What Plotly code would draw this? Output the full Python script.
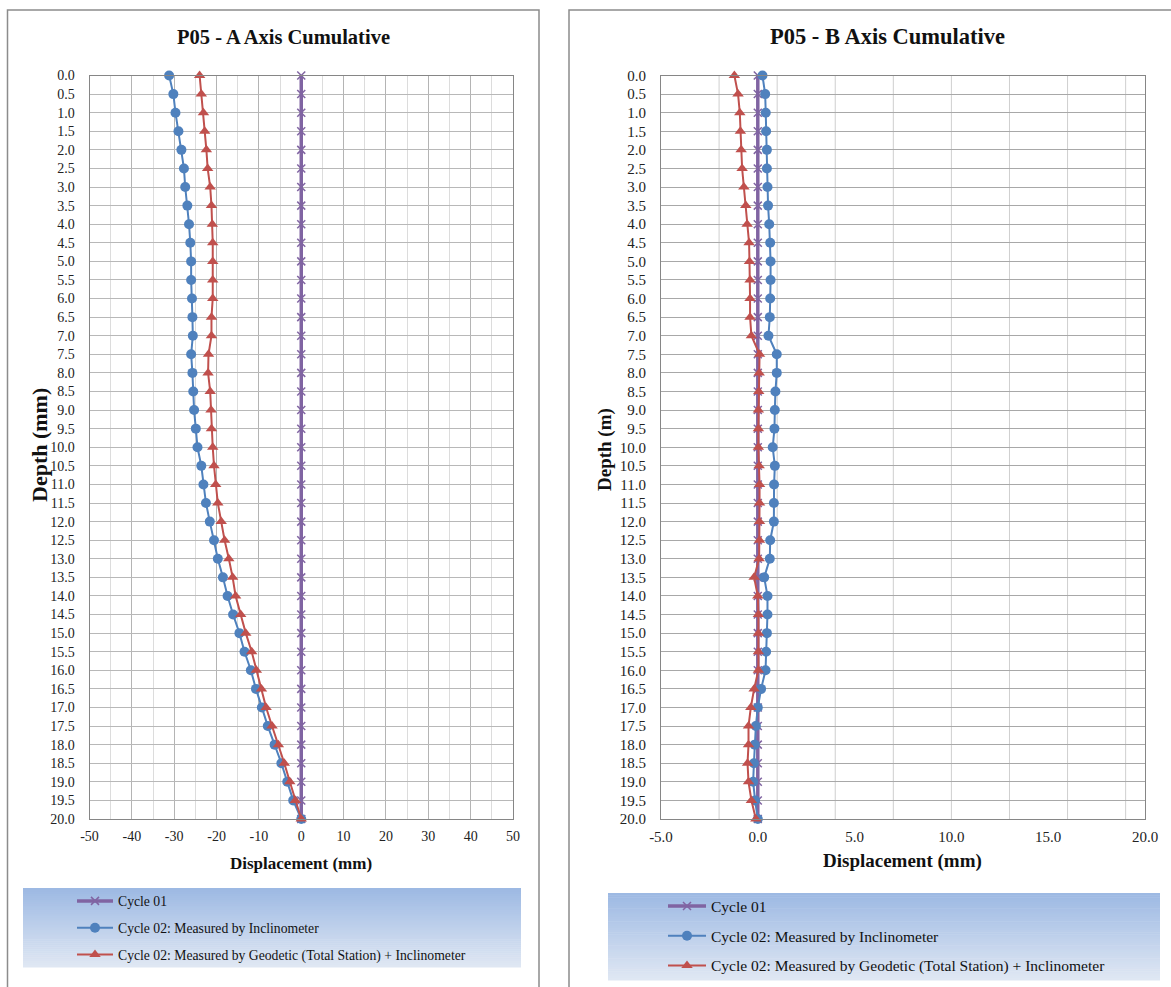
import plotly.graph_objects as go

W, H = 1171, 987

depth = [0.0, 0.5, 1.0, 1.5, 2.0, 2.5, 3.0, 3.5, 4.0, 4.5, 5.0, 5.5, 6.0, 6.5, 7.0, 7.5,
         8.0, 8.5, 9.0, 9.5, 10.0, 10.5, 11.0, 11.5, 12.0, 12.5, 13.0, 13.5, 14.0, 14.5,
         15.0, 15.5, 16.0, 16.5, 17.0, 17.5, 18.0, 18.5, 19.0, 19.5, 20.0]

a_cycle01 = [0.0] * 41
a_inclinometer = [-31.2, -30.2, -29.7, -29.0, -28.3, -27.7, -27.4, -26.9, -26.5, -26.2,
                  -26.0, -26.0, -25.8, -25.7, -25.6, -26.0, -25.7, -25.5, -25.3, -24.9,
                  -24.5, -23.6, -23.1, -22.5, -21.6, -20.6, -19.7, -18.5, -17.4, -16.1,
                  -14.6, -13.4, -11.9, -10.7, -9.3, -7.9, -6.3, -4.7, -3.3, -1.9, 0.0]
a_geodetic = [-24.0, -23.6, -23.1, -22.8, -22.4, -22.1, -21.5, -21.2, -21.0, -20.9,
              -20.9, -20.9, -20.9, -21.2, -21.2, -21.9, -22.0, -21.5, -21.3, -21.2,
              -20.9, -20.6, -20.2, -19.7, -18.9, -18.1, -17.1, -16.2, -15.5, -14.3,
              -13.1, -11.7, -10.6, -9.4, -8.3, -6.9, -5.4, -4.0, -2.7, -1.4, 0.0]

b_cycle01 = [0.0] * 41
b_inclinometer = [0.24, 0.38, 0.41, 0.43, 0.47, 0.47, 0.50, 0.53, 0.59, 0.64,
                  0.66, 0.66, 0.64, 0.62, 0.55, 0.98, 0.98, 0.91, 0.88, 0.86,
                  0.77, 0.88, 0.84, 0.83, 0.83, 0.64, 0.62, 0.33, 0.50, 0.50,
                  0.47, 0.43, 0.40, 0.17, 0.0, -0.10, -0.16, -0.20, -0.24, -0.14, 0.0]
b_geodetic = [-1.21, -1.02, -0.93, -0.90, -0.86, -0.81, -0.72, -0.62, -0.55, -0.45,
              -0.43, -0.40, -0.40, -0.40, -0.33, 0.09, 0.07, 0.05, 0.03, 0.03,
              0.03, 0.07, 0.09, 0.09, 0.09, 0.09, 0.07, -0.19, 0.0, 0.03,
              0.03, 0.03, 0.03, -0.19, -0.36, -0.48, -0.48, -0.53, -0.48, -0.33, -0.10]

a_xticks = [-50, -40, -30, -20, -10, 0, 10, 20, 30, 40, 50]
a_xticklabels = ["-50", "-40", "-30", "-20", "-10", "0", "10", "20", "30", "40", "50"]
b_xticks = [-5, 0, 5, 10, 15, 20]
b_xticklabels = ["-5.0", "0.0", "5.0", "10.0", "15.0", "20.0"]

names = ["Cycle 01",
         "Cycle 02: Measured by Inclinometer",
         "Cycle 02: Measured by Geodetic (Total Station) + Inclinometer"]

PURPLE = "#8064A2"
BLUE = "#4F81BD"
RED = "#C0504D"
SERIF = "Liberation Serif, Times New Roman, serif"


def px(x):
    return x / W


def py(y):
    return 1 - y / H


fig = go.Figure()

panels = [
    ("x", "y", "legend", [a_cycle01, a_inclinometer, a_geodetic]),
    ("x2", "y2", "legend2", [b_cycle01, b_inclinometer, b_geodetic]),
]
for xa, ya, lg, series in panels:
    styles = [
        dict(line=dict(color=PURPLE, width=3.5),
             marker=dict(symbol="x-thin", size=8, color=PURPLE,
                         line=dict(color=PURPLE, width=1.5))),
        dict(line=dict(color=BLUE, width=2),
             marker=dict(symbol="circle", size=10, color=BLUE)),
        dict(line=dict(color=RED, width=2),
             marker=dict(symbol="triangle-up", size=10, color=RED)),
    ]
    for i, (vals, st) in enumerate(zip(series, styles)):
        fig.add_trace(go.Scatter(
            x=vals, y=depth, mode="lines+markers", name=names[i],
            xaxis=xa, yaxis=ya, legend=lg, legendgroup=f"{lg}{i}",
            cliponaxis=False, **st))

tickfont_l = dict(family=SERIF, size=14, color="#222")
tickfont_r = dict(family=SERIF, size=15, color="#222")

ycommon = dict(range=[20, 0], tick0=0, dtick=0.5, tickformat=".1f",
               showgrid=True, zeroline=False, showline=True, mirror=True,
               linecolor="#868686", linewidth=1, ticks="", ticklabelstandoff=11)

left_dom = [px(89.5), px(513)]
right_dom = [px(661), px(1145)]
ydom = [py(819), py(75.5)]

fig.update_layout(
    width=W, height=H, margin=dict(l=0, r=0, t=0, b=0, autoexpand=False),
    paper_bgcolor="white", plot_bgcolor="white", showlegend=True,
    xaxis=dict(domain=left_dom, anchor="y", range=[-50, 50],
               tickmode="array", tickvals=a_xticks, ticktext=a_xticklabels,
               showgrid=True, gridcolor="#B4B4B4", gridwidth=1,
               minor=dict(tickmode="linear", tick0=-50, dtick=5, showgrid=True,
                          gridcolor="#DCDCDC", gridwidth=1),
               zeroline=False, showline=True, mirror=True, linecolor="#868686",
               ticks="", tickfont=tickfont_l, ticklabelstandoff=4),
    yaxis=dict(domain=ydom, anchor="x", gridcolor="#B8B8B8", tickfont=tickfont_l, **ycommon),
    xaxis2=dict(domain=right_dom, anchor="y2", range=[-5, 20],
                tickmode="array", tickvals=b_xticks, ticktext=b_xticklabels,
                showgrid=False, zeroline=False, showline=True,
                mirror=True, linecolor="#868686", ticks="", tickfont=tickfont_r,
                ticklabelstandoff=4),
    yaxis2=dict(domain=ydom, anchor="x2", gridcolor="#A8A8A8", tickfont=tickfont_r, **ycommon),
    legend=dict(x=px(72), y=py(885.5), xanchor="left", yanchor="top",
                bgcolor="rgba(0,0,0,0)", font=dict(family=SERIF, size=13.7, color="#111"),
                itemwidth=36, tracegroupgap=6, traceorder="grouped",
                itemclick=False, itemdoubleclick=False),
    legend2=dict(x=px(663), y=py(889.5), xanchor="left", yanchor="top",
                 bgcolor="rgba(0,0,0,0)", font=dict(family=SERIF, size=15.5, color="#111"),
                 itemwidth=38, tracegroupgap=6.5, traceorder="grouped",
                 itemclick=False, itemdoubleclick=False),
)

shapes = []
# right-panel vertical gridlines (spaced every 3 units from the axis start)
gx = -5 + 3
while gx < 20:
    shapes.append(dict(type="line", xref="x2", yref="y2 domain", x0=gx, x1=gx,
                       y0=0, y1=1, layer="below",
                       line=dict(color="#CFCFCF", width=1)))
    gx += 3


# gradient legend backgrounds
def gradient(x0, x1, y0, y1, n=40):
    top = (157, 185, 227)
    bot = (223, 231, 243)
    out = []
    for k in range(n):
        t = k / (n - 1)
        c = tuple(int(round(top[j] + (bot[j] - top[j]) * t)) for j in range(3))
        ya = y0 + (y1 - y0) * k / n
        yb = y0 + (y1 - y0) * (k + 1) / n + 0.5
        out.append(dict(type="rect", xref="paper", yref="paper",
                        x0=px(x0), x1=px(x1), y0=py(yb), y1=py(ya),
                        fillcolor=f"rgb{c}", line=dict(width=0), layer="below"))
    return out


shapes += gradient(23, 521, 888, 967)
shapes += gradient(608, 1160, 893, 980)

# panel frames
shapes.append(dict(type="rect", xref="paper", yref="paper", x0=px(7.5), x1=px(539),
                   y0=-0.02, y1=py(10), line=dict(color="#8C8C8C", width=1.5),
                   fillcolor="rgba(0,0,0,0)", layer="below"))
shapes.append(dict(type="rect", xref="paper", yref="paper", x0=px(569), x1=1.02,
                   y0=-0.02, y1=py(10), line=dict(color="#8C8C8C", width=1.5),
                   fillcolor="rgba(0,0,0,0)", layer="below"))
fig.update_layout(shapes=shapes)

ann = [
    dict(text="<b>P05 - A Axis Cumulative</b>", x=px(283), y=py(37), size=20.5),
    dict(text="<b>P05 - B Axis Cumulative</b>", x=px(887), y=py(37), size=22.5),
    dict(text="<b>Displacement (mm)</b>", x=px(301), y=py(863), size=17),
    dict(text="<b>Displacement (mm)</b>", x=px(902), y=py(861), size=19),
    dict(text="<b>Depth (mm)</b>", x=px(39), y=py(445), size=22, angle=-90),
    dict(text="<b>Depth (m)</b>", x=px(605), y=py(450), size=19, angle=-90),
]
for a in ann:
    fig.add_annotation(text=a["text"], x=a["x"], y=a["y"], xref="paper", yref="paper",
                       xanchor="center", yanchor="middle", showarrow=False,
                       textangle=a.get("angle", 0),
                       font=dict(family=SERIF, size=a["size"], color="#111"))

fig.write_html("out.html", config={"displayModeBar": False},
               post_script="document.body.style.margin='0';document.body.style.overflow='hidden';")
